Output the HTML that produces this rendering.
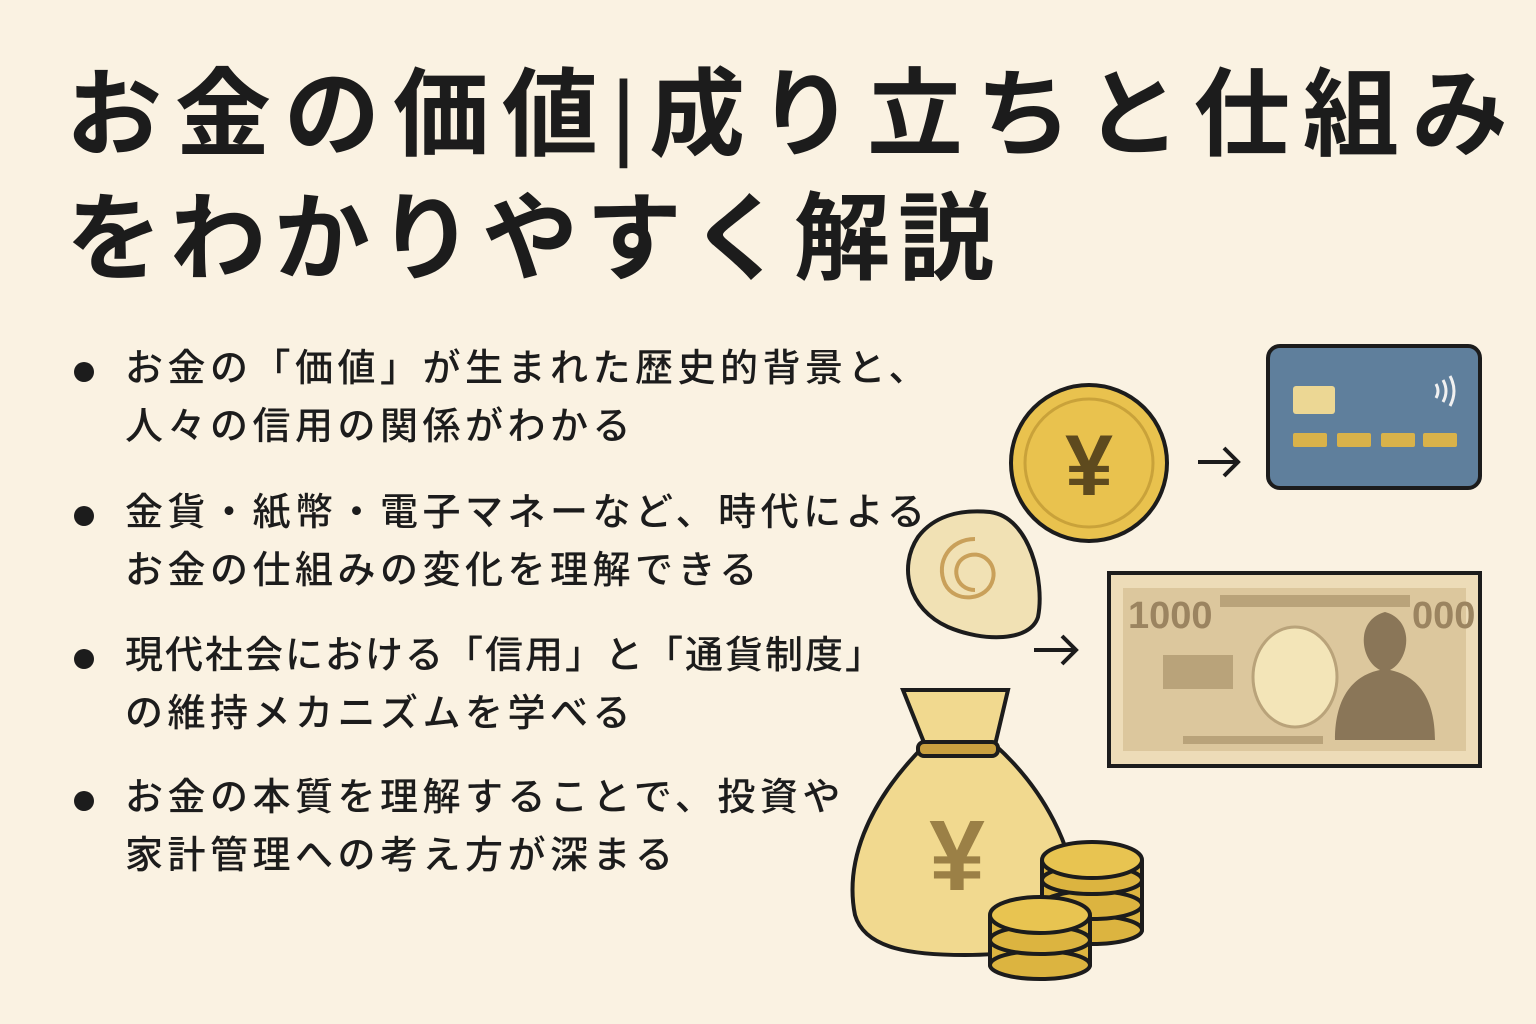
<!DOCTYPE html>
<html><head><meta charset="utf-8"><style>
body{margin:0;width:1536px;height:1024px;background:#faf2e2;overflow:hidden;position:relative;font-family:"Liberation Sans","Noto Sans CJK JP",sans-serif;color:#1c1c1c}
.t{position:absolute;left:66px;font-weight:700;font-size:96px;white-space:nowrap;line-height:1}
.b{position:absolute;left:125px;font-size:38px;line-height:58px;white-space:nowrap;font-weight:500;letter-spacing:4.5px}
.d{position:absolute;left:74px;width:20px;height:20px;border-radius:50%;background:#1c1c1c}
</style></head><body>
<div class="t" style="top:68px;letter-spacing:13px">お金の価値<span style="font-weight:300">|</span>成り立ちと仕組み</div>
<div class="t" style="top:192px;letter-spacing:8px">をわかりやすく解説</div>
<div class="d" style="top:362px"></div><div class="b" style="top:340px">お金の「価値」が生まれた歴史的背景と、<br>人々の信用の関係がわかる</div>
<div class="d" style="top:506px"></div><div class="b" style="top:484px">金貨・紙幣・電子マネーなど、時代による<br>お金の仕組みの変化を理解できる</div>
<div class="d" style="top:649px"></div><div class="b" style="top:627px;letter-spacing:2px">現代社会における「信用」と「通貨制度」<br><span style="letter-spacing:4.5px">の維持メカニズムを学べる</span></div>
<div class="d" style="top:791px"></div><div class="b" style="top:769px">お金の本質を理解することで、投資や<br>家計管理への考え方が深まる</div>
<svg width="1536" height="1024" style="position:absolute;left:0;top:0" fill="none" stroke="#1c1c1c" stroke-width="4">
<rect x="1268" y="346" width="212" height="142" rx="12" fill="#5f7f9c"/>
<rect x="1293" y="386" width="42" height="28" rx="3" fill="#ecd794" stroke="none"/>
<g fill="#d9b24a" stroke="none"><rect x="1293" y="433" width="34" height="14" rx="2"/><rect x="1337" y="433" width="34" height="14" rx="2"/><rect x="1381" y="433" width="34" height="14" rx="2"/><rect x="1423" y="433" width="34" height="14" rx="2"/></g>
<path d="M1436 384q4 7 0 14M1443 380q6 11 0 22M1450 376q8 15 0 30" stroke="#f0f0f0" stroke-width="3"/>
<path d="M1198 462h40M1224 448l14 14-14 14" stroke-width="4"/>
<path d="M1034 650h42M1062 636l14 14-14 14" stroke-width="4"/>
<circle cx="1089" cy="463" r="78" fill="#e9c24e"/>
<circle cx="1089" cy="463" r="64" stroke="#c9a23a" stroke-width="3"/>
<text x="1089" y="495" font-size="86" fill="#5e4a1e" stroke="none" text-anchor="middle" font-weight="700">¥</text>
<path d="M990 512c40 5 55 70 48 105c-8 25-55 25-90 10c-40-18-50-60-30-90c15-20 40-28 72-25z" fill="#f1e1b4"/>
<path d="M975 590c-20 0-25-25-10-33c15-8 32 5 28 22c-5 22-38 25-48 5c-10-22 5-45 30-45" stroke="#c9a05a" stroke-width="4"/>
<rect x="1109" y="573" width="371" height="193" fill="#eddcb8"/>
<rect x="1123" y="588" width="343" height="163" fill="#dcc79d" stroke="none"/>
<text x="1128" y="628" font-size="38" fill="#9b8460" stroke="none" font-weight="700">1000</text>
<text x="1412" y="628" font-size="38" fill="#9b8460" stroke="none" font-weight="700">000</text>
<rect x="1220" y="595" width="190" height="12" fill="#b9a37a" stroke="none"/>
<ellipse cx="1295" cy="677" rx="42" ry="50" fill="#f3e5b8" stroke="#b9a37a" stroke-width="3"/>
<rect x="1163" y="655" width="70" height="34" fill="#b9a37a" stroke="none"/>
<path d="M1335 740c0-45 20-65 45-70c-20-10-25-50 5-58c30 8 25 48 5 58c25 5 45 25 45 70z" fill="#8a7658" stroke="none"/>
<rect x="1183" y="736" width="140" height="8" fill="#b9a37a" stroke="none"/>
<path d="M925 745c-60 60-80 120-70 170c10 35 60 40 110 40c60 0 110-10 110-55c0-50-30-110-80-155z" fill="#f1d98f"/>
<path d="M925 745l-22-55h105l-13 55z" fill="#f1d98f"/>
<rect x="918" y="742" width="80" height="14" rx="6" fill="#c9a040"/>
<text x="957" y="890" font-size="100" fill="#9b8046" stroke="none" text-anchor="middle" font-weight="700">¥</text>
<g fill="#dcb440">
<path d="M1042 860v70c0 15 100 15 100 0v-70"/><ellipse cx="1092" cy="930" rx="50" ry="14"/><ellipse cx="1092" cy="905" rx="50" ry="14"/><ellipse cx="1092" cy="880" rx="50" ry="14"/><ellipse cx="1092" cy="860" rx="50" ry="18" fill="#e8c451"/>
<path d="M990 915v50c0 15 100 15 100 0v-50"/><ellipse cx="1040" cy="965" rx="50" ry="14"/><ellipse cx="1040" cy="940" rx="50" ry="14"/><ellipse cx="1040" cy="915" rx="50" ry="18" fill="#e8c451"/>
</g>
</svg>
</body></html>
